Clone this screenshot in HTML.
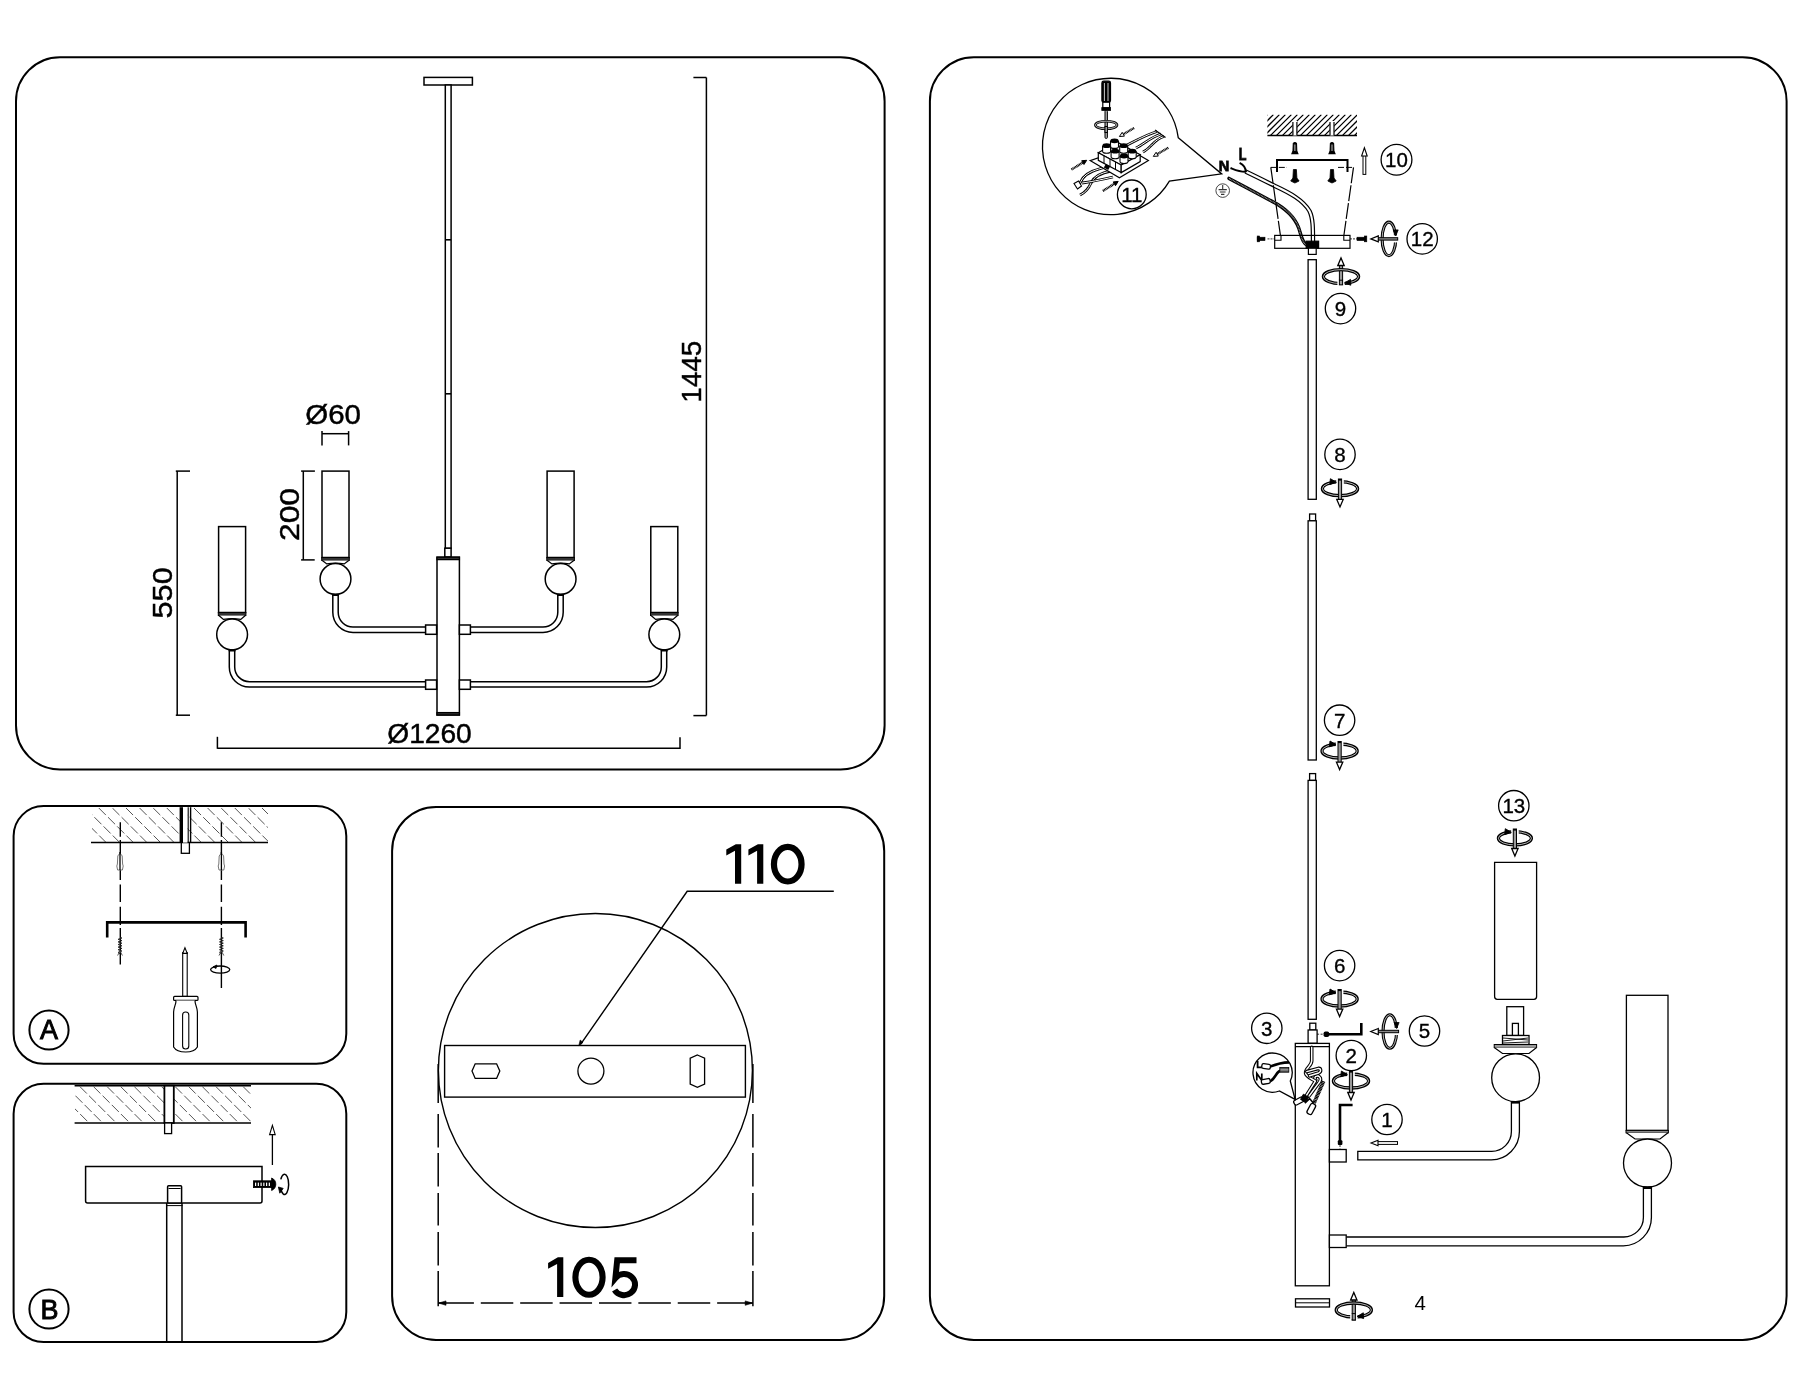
<!DOCTYPE html>
<html><head><meta charset="utf-8"><style>
html,body{margin:0;padding:0;background:#fff;}
body{width:1800px;height:1400px;overflow:hidden;}
svg{display:block;}
text{font-family:"Liberation Sans", sans-serif;fill:#000;}
svg{will-change:transform;}
</style></head><body>
<svg width="1800" height="1400" viewBox="0 0 1800 1400">
<rect x="0" y="0" width="1800" height="1400" fill="#fff"/>
<rect x="16.00" y="57.20" width="868.60" height="712.30" rx="44" fill="none" stroke="#000" stroke-width="2.0" />
<rect x="13.60" y="806.10" width="332.70" height="257.70" rx="30" fill="none" stroke="#000" stroke-width="2.0" />
<rect x="13.60" y="1083.70" width="332.70" height="258.30" rx="30" fill="none" stroke="#000" stroke-width="2.0" />
<rect x="392.10" y="806.90" width="492.10" height="533.10" rx="44" fill="none" stroke="#000" stroke-width="2.0" />
<rect x="929.90" y="57.20" width="856.70" height="1282.70" rx="44" fill="none" stroke="#000" stroke-width="2.0" />
<rect x="424.00" y="77.40" width="48.40" height="7.60" rx="0" fill="none" stroke="#000" stroke-width="1.5" />
<rect x="445.30" y="85.00" width="5.80" height="463.40" rx="0" fill="#fff" stroke="#000" stroke-width="1.5" />
<line x1="445.30" y1="239.80" x2="451.10" y2="239.80" stroke="#000" stroke-width="1.6" />
<line x1="445.30" y1="393.80" x2="451.10" y2="393.80" stroke="#000" stroke-width="1.6" />
<rect x="444.80" y="548.20" width="6.30" height="8.90" rx="0" fill="#fff" stroke="#000" stroke-width="1.5" />
<rect x="437.00" y="557.20" width="22.40" height="157.80" rx="0" fill="#fff" stroke="#000" stroke-width="1.5" />
<rect x="437.00" y="557.20" width="22.40" height="2.40" rx="0" fill="#333" stroke="#000" stroke-width="1.3" />
<rect x="437.00" y="712.60" width="22.40" height="2.40" rx="0" fill="#333" stroke="#000" stroke-width="1.3" />
<path d="M332.80,594.00 L332.80,612.20 A20.20,20.20 0 0 0 353.00,632.40 L425.60,632.40 M338.20,594.00 L338.20,612.20 A14.80,14.80 0 0 0 353.00,627.00 L425.60,627.00" fill="none" stroke="#000" stroke-width="1.5" />
<path d="M229.30,649.50 L229.30,666.90 A20.20,20.20 0 0 0 249.50,687.10 L425.60,687.10 M234.70,649.50 L234.70,666.90 A14.80,14.80 0 0 0 249.50,681.70 L425.60,681.70" fill="none" stroke="#000" stroke-width="1.5" />
<path d="M563.20,594.00 L563.20,612.20 A20.20,20.20 0 0 1 543.00,632.40 L470.40,632.40 M557.80,594.00 L557.80,612.20 A14.80,14.80 0 0 1 543.00,627.00 L470.40,627.00" fill="none" stroke="#000" stroke-width="1.5" />
<path d="M666.70,649.50 L666.70,666.90 A20.20,20.20 0 0 1 646.50,687.10 L470.40,687.10 M661.30,649.50 L661.30,666.90 A14.80,14.80 0 0 1 646.50,681.70 L470.40,681.70" fill="none" stroke="#000" stroke-width="1.5" />
<rect x="425.60" y="625.00" width="11.00" height="9.30" rx="0" fill="#fff" stroke="#000" stroke-width="1.5" />
<rect x="459.40" y="625.00" width="11.00" height="9.30" rx="0" fill="#fff" stroke="#000" stroke-width="1.5" />
<rect x="425.60" y="680.00" width="11.00" height="9.30" rx="0" fill="#fff" stroke="#000" stroke-width="1.5" />
<rect x="459.40" y="680.00" width="11.00" height="9.30" rx="0" fill="#fff" stroke="#000" stroke-width="1.5" />
<rect x="322.00" y="471.10" width="27.00" height="86.40" rx="0" fill="#fff" stroke="#000" stroke-width="1.5" />
<rect x="321.70" y="557.50" width="27.60" height="3.00" rx="0" fill="#333" stroke="#000" stroke-width="1.0" />
<path d="M322.30,560.50 L326.80,563.90 Q335.50,562.40 344.20,563.90 L348.70,560.50" fill="#fff" stroke="#000" stroke-width="1.3" />
<circle cx="335.50" cy="579.00" r="15.40" fill="#fff" stroke="#000" stroke-width="1.5" />
<rect x="332.20" y="593.60" width="6.60" height="2.40" rx="0" fill="#000" stroke="#000" stroke-width="0" />
<rect x="218.60" y="526.60" width="27.00" height="85.90" rx="0" fill="#fff" stroke="#000" stroke-width="1.5" />
<rect x="218.30" y="612.50" width="27.60" height="3.00" rx="0" fill="#333" stroke="#000" stroke-width="1.0" />
<path d="M218.90,615.50 L223.40,619.40 Q232.10,617.90 240.80,619.40 L245.30,615.50" fill="#fff" stroke="#000" stroke-width="1.3" />
<circle cx="232.10" cy="634.50" r="15.40" fill="#fff" stroke="#000" stroke-width="1.5" />
<rect x="228.80" y="649.10" width="6.60" height="2.40" rx="0" fill="#000" stroke="#000" stroke-width="0" />
<rect x="547.10" y="471.10" width="27.00" height="86.40" rx="0" fill="#fff" stroke="#000" stroke-width="1.5" />
<rect x="546.80" y="557.50" width="27.60" height="3.00" rx="0" fill="#333" stroke="#000" stroke-width="1.0" />
<path d="M547.40,560.50 L551.90,563.90 Q560.60,562.40 569.30,563.90 L573.80,560.50" fill="#fff" stroke="#000" stroke-width="1.3" />
<circle cx="560.60" cy="579.00" r="15.40" fill="#fff" stroke="#000" stroke-width="1.5" />
<rect x="557.30" y="593.60" width="6.60" height="2.40" rx="0" fill="#000" stroke="#000" stroke-width="0" />
<rect x="650.80" y="526.60" width="27.00" height="85.90" rx="0" fill="#fff" stroke="#000" stroke-width="1.5" />
<rect x="650.50" y="612.50" width="27.60" height="3.00" rx="0" fill="#333" stroke="#000" stroke-width="1.0" />
<path d="M651.10,615.50 L655.60,619.40 Q664.30,617.90 673.00,619.40 L677.50,615.50" fill="#fff" stroke="#000" stroke-width="1.3" />
<circle cx="664.30" cy="634.50" r="15.40" fill="#fff" stroke="#000" stroke-width="1.5" />
<rect x="661.00" y="649.10" width="6.60" height="2.40" rx="0" fill="#000" stroke="#000" stroke-width="0" />
<line x1="177.20" y1="471.10" x2="177.20" y2="715.20" stroke="#000" stroke-width="1.5" />
<line x1="175.80" y1="471.10" x2="190.00" y2="471.10" stroke="#000" stroke-width="1.5" />
<line x1="175.80" y1="715.20" x2="190.00" y2="715.20" stroke="#000" stroke-width="1.5" />
<line x1="303.30" y1="471.10" x2="303.30" y2="559.90" stroke="#000" stroke-width="1.5" />
<line x1="301.10" y1="471.10" x2="314.90" y2="471.10" stroke="#000" stroke-width="1.5" />
<line x1="301.10" y1="559.90" x2="314.70" y2="559.90" stroke="#000" stroke-width="1.5" />
<line x1="322.00" y1="433.70" x2="348.60" y2="433.70" stroke="#000" stroke-width="1.5" />
<line x1="322.00" y1="431.10" x2="322.00" y2="445.40" stroke="#000" stroke-width="1.5" />
<line x1="348.60" y1="431.10" x2="348.60" y2="445.40" stroke="#000" stroke-width="1.5" />
<line x1="706.40" y1="77.50" x2="706.40" y2="715.60" stroke="#000" stroke-width="1.5" />
<line x1="693.40" y1="77.50" x2="706.40" y2="77.50" stroke="#000" stroke-width="1.5" />
<line x1="693.40" y1="715.60" x2="706.40" y2="715.60" stroke="#000" stroke-width="1.5" />
<line x1="217.40" y1="748.30" x2="680.00" y2="748.30" stroke="#000" stroke-width="1.5" />
<line x1="217.40" y1="736.80" x2="217.40" y2="748.80" stroke="#000" stroke-width="1.5" />
<line x1="680.00" y1="737.30" x2="680.00" y2="749.00" stroke="#000" stroke-width="1.5" />
<g transform="translate(333.10,423.70) scale(1.1,1)"><text x="0" y="0" font-size="26.8" text-anchor="middle" font-weight="normal" stroke="#000" stroke-width="0.45">Ø60</text></g>
<g transform="translate(429.50,742.80) scale(1.05,1)"><text x="0" y="0" font-size="26.8" text-anchor="middle" font-weight="normal" stroke="#000" stroke-width="0.45">Ø1260</text></g>
<text transform="translate(299.2,514.5) rotate(-90) scale(1.19,1)" x="0" y="0" font-size="26.8" text-anchor="middle" stroke="#000" stroke-width="0.45">200</text>
<text transform="translate(171.8,592.9) rotate(-90) scale(1.145,1)" x="0" y="0" font-size="26.8" text-anchor="middle" stroke="#000" stroke-width="0.45">550</text>
<text transform="translate(700.9,371.7) rotate(-90) scale(1.04,1)" x="0" y="0" font-size="26.8" text-anchor="middle" stroke="#000" stroke-width="0.45">1445</text>
<clipPath id="c61"><rect x="92" y="808" width="176" height="34"/></clipPath>
<path clip-path="url(#c61)" d="M58.00,808.00 L92.00,842.00 M71.60,808.00 L105.60,842.00 M85.20,808.00 L119.20,842.00 M98.80,808.00 L132.80,842.00 M112.40,808.00 L146.40,842.00 M126.00,808.00 L160.00,842.00 M139.60,808.00 L173.60,842.00 M153.20,808.00 L187.20,842.00 M166.80,808.00 L200.80,842.00 M180.40,808.00 L214.40,842.00 M194.00,808.00 L228.00,842.00 M207.60,808.00 L241.60,842.00 M221.20,808.00 L255.20,842.00 M234.80,808.00 L268.80,842.00 M248.40,808.00 L282.40,842.00 M262.00,808.00 L296.00,842.00 M275.60,808.00 L309.60,842.00 M289.20,808.00 L323.20,842.00" stroke="#555" stroke-width="1.0" fill="none" stroke-dasharray="10 3"/>
<line x1="91.00" y1="842.60" x2="268.00" y2="842.60" stroke="#000" stroke-width="1.5" />
<rect x="181.30" y="842.60" width="8.10" height="10.70" rx="0" fill="#fff" stroke="#000" stroke-width="1.3" />
<rect x="179.60" y="807.20" width="3.40" height="35.40" rx="0" fill="#000" stroke="#000" stroke-width="0" />
<rect x="183.00" y="807.20" width="4.60" height="35.40" rx="0" fill="#fff" stroke="#000" stroke-width="0" />
<line x1="188.20" y1="807.20" x2="188.20" y2="842.60" stroke="#000" stroke-width="1.1" />
<line x1="190.60" y1="807.20" x2="190.60" y2="842.60" stroke="#000" stroke-width="1.4" />
<line x1="120.30" y1="822.20" x2="120.30" y2="964.50" stroke="#000" stroke-width="1.4" stroke-dasharray="14.5 3.3 40 4.5 17.5 4.8 18.2 3 40 0"/>
<line x1="221.40" y1="822.20" x2="221.40" y2="988.00" stroke="#000" stroke-width="1.4" stroke-dasharray="14.5 3.3 40 4.5 17.5 4.8 18.2 3 64 0"/>
<path d="M117.80,856 Q120.00,851.5 122.20,856 L122.60,864 L123.20,866 L122.40,870 L117.60,870 L116.80,866 L117.40,864 Z" fill="#fff" stroke="#666" stroke-width="0.9" />
<line x1="120.00" y1="852.00" x2="120.00" y2="870.00" stroke="#000" stroke-width="1.3" />
<path d="M120.00,937.5 L121.90,938.00 L118.10,939.30 L121.90,940.60 L118.10,941.90 L121.90,943.20 L118.10,944.50 L121.90,945.80 L118.10,947.10 L121.90,948.40 L118.10,949.70 L121.90,951.00 L118.10,952.30 L120.00,954" fill="none" stroke="#222" stroke-width="1.0" />
<path d="M117.60,955.5 L120.00,951 L122.40,955.5" fill="none" stroke="#444" stroke-width="0.9" />
<path d="M219.20,856 Q221.40,851.5 223.60,856 L224.00,864 L224.60,866 L223.80,870 L219.00,870 L218.20,866 L218.80,864 Z" fill="#fff" stroke="#666" stroke-width="0.9" />
<line x1="221.40" y1="852.00" x2="221.40" y2="870.00" stroke="#000" stroke-width="1.3" />
<path d="M221.40,937.5 L223.30,938.00 L219.50,939.30 L223.30,940.60 L219.50,941.90 L223.30,943.20 L219.50,944.50 L223.30,945.80 L219.50,947.10 L223.30,948.40 L219.50,949.70 L223.30,951.00 L219.50,952.30 L221.40,954" fill="none" stroke="#222" stroke-width="1.0" />
<path d="M219.00,955.5 L221.40,951 L223.80,955.5" fill="none" stroke="#444" stroke-width="0.9" />
<path d="M107.2,937.5 L107.2,922.4 L245.6,922.4 L245.6,937.5" fill="none" stroke="#000" stroke-width="2.6" />
<rect x="182.70" y="952.60" width="4.50" height="43.80" rx="0" fill="#fff" stroke="#000" stroke-width="1.1" />
<path d="M182.7,953.4 L184.95,947.8 L187.2,953.4 Z" fill="#fff" stroke="#000" stroke-width="1.1" />
<rect x="173.60" y="996.40" width="24.40" height="4.00" rx="1" fill="#fff" stroke="#000" stroke-width="1.2" />
<path d="M176,1000.4 C176,1005 174,1006 173.6,1012 L173.6,1047 C176,1051 181,1052 185.7,1052 C190,1052 195,1051 197.4,1047 L197.4,1012 C197,1006 195,1005 195,1000.4" fill="#fff" stroke="#000" stroke-width="1.2" />
<rect x="182.60" y="1012.00" width="6.20" height="37.00" rx="3" fill="none" stroke="#000" stroke-width="1.1" />
<ellipse cx="220.2" cy="969.6" rx="9.6" ry="3.6" fill="none" stroke="#000" stroke-width="1.3"/>
<path d="M213,966.8 L217,965 L216,968.5 Z" fill="#000" stroke="#000" stroke-width="0.8" />
<circle cx="49.00" cy="1030.00" r="19.60" fill="none" stroke="#000" stroke-width="2.0" />
<text x="49.00" y="1039.40" font-size="27" text-anchor="middle" font-weight="normal" stroke="#000" stroke-width="0.9">A</text>
<clipPath id="c89"><rect x="75" y="1086.5" width="176" height="36.0"/></clipPath>
<path clip-path="url(#c89)" d="M39.00,1086.50 L75.00,1122.50 M52.60,1086.50 L88.60,1122.50 M66.20,1086.50 L102.20,1122.50 M79.80,1086.50 L115.80,1122.50 M93.40,1086.50 L129.40,1122.50 M107.00,1086.50 L143.00,1122.50 M120.60,1086.50 L156.60,1122.50 M134.20,1086.50 L170.20,1122.50 M147.80,1086.50 L183.80,1122.50 M161.40,1086.50 L197.40,1122.50 M175.00,1086.50 L211.00,1122.50 M188.60,1086.50 L224.60,1122.50 M202.20,1086.50 L238.20,1122.50 M215.80,1086.50 L251.80,1122.50 M229.40,1086.50 L265.40,1122.50 M243.00,1086.50 L279.00,1122.50 M256.60,1086.50 L292.60,1122.50 M270.20,1086.50 L306.20,1122.50 M283.80,1086.50 L319.80,1122.50" stroke="#555" stroke-width="1.0" fill="none" stroke-dasharray="10 3"/>
<line x1="74.60" y1="1085.70" x2="251.00" y2="1085.70" stroke="#000" stroke-width="1.6" />
<line x1="74.60" y1="1123.00" x2="251.00" y2="1123.00" stroke="#000" stroke-width="1.6" />
<rect x="164.40" y="1085.70" width="9.40" height="37.30" rx="0" fill="#fff" stroke="#000" stroke-width="1.8" />
<rect x="164.60" y="1123.00" width="7.00" height="10.60" rx="0" fill="#fff" stroke="#000" stroke-width="1.3" />
<path d="M85.6,1166.4 L262.0,1166.4 L262.0,1201 Q262,1203 260,1203 L87.6,1203 Q85.6,1203 85.6,1201 Z" fill="#fff" stroke="#000" stroke-width="1.5" />
<rect x="167.60" y="1185.80" width="14.00" height="17.20" rx="1" fill="#fff" stroke="#000" stroke-width="1.5" />
<line x1="168.50" y1="1188.50" x2="180.60" y2="1188.50" stroke="#000" stroke-width="1.0" />
<line x1="166.70" y1="1203.00" x2="166.70" y2="1341.00" stroke="#000" stroke-width="1.5" />
<line x1="182.00" y1="1203.00" x2="182.00" y2="1341.00" stroke="#000" stroke-width="1.5" />
<line x1="166.00" y1="1205.60" x2="182.60" y2="1205.60" stroke="#000" stroke-width="1.0" />
<rect x="253.40" y="1180.80" width="18.20" height="6.80" rx="0" fill="#000" stroke="#000" stroke-width="0.8" />
<rect x="255.00" y="1182.6" width="1.2" height="3.4" fill="#fff"/>
<rect x="257.75" y="1182.6" width="1.2" height="3.4" fill="#fff"/>
<rect x="260.50" y="1182.6" width="1.2" height="3.4" fill="#fff"/>
<rect x="263.25" y="1182.6" width="1.2" height="3.4" fill="#fff"/>
<rect x="266.00" y="1182.6" width="1.2" height="3.4" fill="#fff"/>
<rect x="268.75" y="1182.6" width="1.2" height="3.4" fill="#fff"/>
<path d="M271.6,1178.0 Q275.8,1179.8 275.8,1184.2 Q275.8,1188.6 271.6,1190.5 Z" fill="#000" stroke="#000" stroke-width="0.8" />
<path d="M280.8,1179.4 A4.2,10.1 0 1 1 280.6,1188.2" fill="none" stroke="#000" stroke-width="1.5" />
<path d="M278.4,1187.0 L279.8,1193.2 L283.2,1188.4 Z" fill="#000" stroke="#000" stroke-width="0.8" />
<line x1="272.40" y1="1165.00" x2="272.40" y2="1130.00" stroke="#000" stroke-width="1.3" />
<path d="M269.6,1134.6 L272.4,1125.4 L275.2,1134.6 Z" fill="#fff" stroke="#000" stroke-width="1.1" />
<circle cx="49.00" cy="1309.00" r="19.60" fill="none" stroke="#000" stroke-width="2.0" />
<text x="49.60" y="1318.60" font-size="27" text-anchor="middle" font-weight="normal" stroke="#000" stroke-width="0.9">B</text>
<circle cx="595.40" cy="1070.50" r="157.00" fill="none" stroke="#000" stroke-width="1.4" />
<rect x="444.60" y="1045.50" width="300.80" height="51.60" rx="0" fill="#fff" stroke="#000" stroke-width="1.4" />
<path d="M472.0,1071.1 L475.2,1063.8 L496.6,1063.8 L499.8,1071.1 L496.6,1078.4 L475.2,1078.4 Z" fill="none" stroke="#000" stroke-width="1.3" />
<circle cx="590.90" cy="1071.10" r="13.00" fill="none" stroke="#000" stroke-width="1.3" />
<path d="M697.4,1055.0 L704.6,1058.2 L704.6,1084.2 L697.4,1087.4 L690.2,1084.2 L690.2,1058.2 Z" fill="none" stroke="#000" stroke-width="1.3" />
<path d="M580.4,1044.6 L687.2,891.3 L833.8,891.3" fill="none" stroke="#000" stroke-width="1.4" />
<path d="M578.8,1045.5 L580.2,1040 L583.0,1042.4 Z" fill="#000" stroke="#000" stroke-width="0.6" />
<path d="M726.30,849.60 L735.80,844.20 L741.20,844.20 L741.20,883.80 L735.00,883.80 L735.00,850.80 L726.30,855.60 Z" fill="#000" stroke="none"/>
<path d="M748.40,849.60 L757.90,844.20 L763.30,844.20 L763.30,883.80 L757.10,883.80 L757.10,850.80 L748.40,855.60 Z" fill="#000" stroke="none"/>
<ellipse cx="787.75" cy="864.2" rx="13.8" ry="17.3" fill="none" stroke="#000" stroke-width="6.2"/>
<path d="M548.10,1263.00 L557.90,1257.30 L563.30,1257.30 L563.30,1297.10 L557.10,1297.10 L557.10,1263.90 L548.10,1268.80 Z" fill="#000" stroke="none"/>
<ellipse cx="589.0" cy="1277.2" rx="13.6" ry="17.5" fill="none" stroke="#000" stroke-width="6.1"/>
<path d="M636.5,1260.2 L617.2,1260.2 L615.4,1278.0 A11.0,10.6 0 1 1 614.6,1290.0" fill="none" stroke="#000" stroke-width="6.0" stroke-linejoin="miter"/>
<path d="M438.2,1064 L438.2,1306.2" stroke="#000" stroke-width="1.5" fill="none" stroke-dasharray="39 11 33.4 5.6 33.5 6.5 32.5 6.5 33.4 5.6 40 0"/>
<path d="M752.9,1064 L752.9,1306.2" stroke="#000" stroke-width="1.5" fill="none" stroke-dasharray="39 11 33.4 5.6 33.5 6.5 32.5 6.5 33.4 5.6 40 0"/>
<path d="M438.2,1303.1 L752.9,1303.1" stroke="#000" stroke-width="1.5" fill="none" stroke-dasharray="35.7 6.89 32.5 6.89 32.5 6.89 32.5 6.89 32.5 6.89 32.5 6.89 32.5 6.89 40 0"/>
<path d="M438.6,1303.1 L446.0,1300.9 L446.0,1305.3 Z" fill="#000" stroke="#000" stroke-width="0.6" />
<path d="M752.5,1303.1 L745.2,1300.9 L745.2,1305.3 Z" fill="#000" stroke="#000" stroke-width="0.6" />
<path d="M1178.3,137.8 L1221.7,173.9 L1169.4,181.1 A68.2,68.2 0 1 1 1178.3,137.8 Z" fill="#fff" stroke="#000" stroke-width="1.3" />
<rect x="1101.90" y="81.20" width="8.60" height="21.00" rx="1.8" fill="#000" stroke="#000" stroke-width="1.2" />
<line x1="1104.40" y1="83.00" x2="1104.40" y2="101.00" stroke="#fff" stroke-width="0.8" />
<line x1="1108.00" y1="83.00" x2="1108.00" y2="101.00" stroke="#fff" stroke-width="0.8" />
<rect x="1102.80" y="102.20" width="6.80" height="5.80" rx="0" fill="#fff" stroke="#000" stroke-width="1.2" />
<rect x="1101.80" y="107.60" width="8.80" height="2.80" rx="0" fill="#000" stroke="#000" stroke-width="0.8" />
<rect x="1105.00" y="110.40" width="2.40" height="28.00" rx="1" fill="#aaa" stroke="#000" stroke-width="1.0" />
<ellipse cx="1106.2" cy="125.0" rx="10.8" ry="3.8" fill="none" stroke="#000" stroke-width="2.6"/>
<ellipse cx="1106.2" cy="125.0" rx="10.8" ry="3.8" fill="none" stroke="#fff" stroke-width="0.7"/>
<rect x="1105.00" y="126.50" width="2.40" height="6.00" rx="0" fill="#aaa" stroke="#000" stroke-width="1.0" />
<path d="M1106,167 C1095,170 1088,172 1083,178 C1080,183 1078,186 1077,188" fill="none" stroke="#000" stroke-width="2.8" />
<path d="M1106,167 C1095,170 1088,172 1083,178 C1080,183 1078,186 1077,188" fill="none" stroke="#fff" stroke-width="1.0" />
<path d="M1111,171 C1100,173 1094,177 1091,183 C1088,190 1084,193 1080,195" fill="none" stroke="#000" stroke-width="2.8" />
<path d="M1111,171 C1100,173 1094,177 1091,183 C1088,190 1084,193 1080,195" fill="none" stroke="#fff" stroke-width="1.0" />
<path d="M1113,177 C1100,180 1090,182 1082,183" fill="none" stroke="#000" stroke-width="2.8" />
<path d="M1113,177 C1100,180 1090,182 1082,183" fill="none" stroke="#fff" stroke-width="1.0" />
<path d="M1074,183.5 L1078.5,181 L1081.5,186 L1077.5,189 Z" fill="#fff" stroke="#000" stroke-width="1.1" />
<path d="M1127,145 C1135,141 1147,134.5 1157,131.5" fill="none" stroke="#000" stroke-width="2.8" />
<path d="M1127,145 C1135,141 1147,134.5 1157,131.5" fill="none" stroke="#fff" stroke-width="1.0" />
<path d="M1136,148 C1144,144 1151,137 1161,134" fill="none" stroke="#000" stroke-width="2.8" />
<path d="M1136,148 C1144,144 1151,137 1161,134" fill="none" stroke="#fff" stroke-width="1.0" />
<path d="M1143,152 C1151,148 1154,139.5 1164,136.5" fill="none" stroke="#000" stroke-width="2.8" />
<path d="M1143,152 C1151,148 1154,139.5 1164,136.5" fill="none" stroke="#fff" stroke-width="1.0" />
<path d="M1155,130 L1165.5,137.5" fill="none" stroke="#000" stroke-width="1.2" />
<path d="M1090.1,160.6 L1119.4,177.8 L1148.4,160.6 L1127,148 Z" fill="#fff" stroke="#000" stroke-width="1.2" />
<path d="M1098.3,152.7 L1117.0,142.0 L1140.2,154.8 L1121.2,165.0 Z" fill="#fff" stroke="#000" stroke-width="1.2" />
<path d="M1098.3,152.7 L1121.2,165.0 L1121.2,172.6 L1098.3,160.3 Z" fill="#fff" stroke="#000" stroke-width="1.2" />
<path d="M1121.2,165.0 L1140.2,154.8 L1140.2,161.6 L1121.2,172.6 Z" fill="#fff" stroke="#000" stroke-width="1.2" />
<path d="M1104,155.8 L1104,163.3 M1110,159 L1110,166.5 M1115.5,162 L1115.5,169.5" fill="none" stroke="#000" stroke-width="1.0" />
<rect x="1104.5" y="165" width="5" height="4" fill="#000" transform="rotate(30 1107 167)"/>
<path d="M1110.50,140.80 L1110.50,146.40 A4,2 0 0 0 1118.50,146.40 L1118.50,140.80" fill="#fff" stroke="#000" stroke-width="1.1"/>
<ellipse cx="1114.50" cy="140.80" rx="4.1" ry="2.4" fill="#000"/>
<rect x="1110.40" y="140.80" width="8.2" height="1.6" fill="#000"/>
<path d="M1102.60,145.70 L1102.60,151.30 A4,2 0 0 0 1110.60,151.30 L1110.60,145.70" fill="#fff" stroke="#000" stroke-width="1.1"/>
<ellipse cx="1106.60" cy="145.70" rx="4.1" ry="2.4" fill="#000"/>
<rect x="1102.50" y="145.70" width="8.2" height="1.6" fill="#000"/>
<path d="M1119.70,145.70 L1119.70,151.30 A4,2 0 0 0 1127.70,151.30 L1127.70,145.70" fill="#fff" stroke="#000" stroke-width="1.1"/>
<ellipse cx="1123.70" cy="145.70" rx="4.1" ry="2.4" fill="#000"/>
<rect x="1119.60" y="145.70" width="8.2" height="1.6" fill="#000"/>
<path d="M1128.20,151.20 L1128.20,156.80 A4,2 0 0 0 1136.20,156.80 L1136.20,151.20" fill="#fff" stroke="#000" stroke-width="1.1"/>
<ellipse cx="1132.20" cy="151.20" rx="4.1" ry="2.4" fill="#000"/>
<rect x="1128.10" y="151.20" width="8.2" height="1.6" fill="#000"/>
<path d="M1111.10,151.20 L1111.10,156.80 A4,2 0 0 0 1119.10,156.80 L1119.10,151.20" fill="#fff" stroke="#000" stroke-width="1.1"/>
<ellipse cx="1115.10" cy="151.20" rx="4.1" ry="2.4" fill="#000"/>
<rect x="1111.00" y="151.20" width="8.2" height="1.6" fill="#000"/>
<path d="M1120.00,156.00 L1120.00,161.60 A4,2 0 0 0 1128.00,161.60 L1128.00,156.00" fill="#fff" stroke="#000" stroke-width="1.1"/>
<ellipse cx="1124.00" cy="156.00" rx="4.1" ry="2.4" fill="#000"/>
<rect x="1119.90" y="156.00" width="8.2" height="1.6" fill="#000"/>
<line x1="1134.10" y1="128.00" x2="1123.30" y2="134.25" stroke="#000" stroke-width="2.4" stroke-dasharray="1 0.5"/>
<path d="M1119.40,136.50 L1122.19,132.34 L1124.40,136.15 Z" fill="#fff" stroke="#000" stroke-width="1.0" />
<line x1="1168.30" y1="147.80" x2="1157.20" y2="154.16" stroke="#000" stroke-width="2.4" stroke-dasharray="1 0.5"/>
<path d="M1153.30,156.40 L1156.11,152.25 L1158.30,156.07 Z" fill="#fff" stroke="#000" stroke-width="1.0" />
<line x1="1071.40" y1="169.50" x2="1082.84" y2="162.62" stroke="#000" stroke-width="2.4" stroke-dasharray="1 0.5"/>
<path d="M1086.70,160.30 L1083.98,164.50 L1081.71,160.73 Z" fill="#000" stroke="#000" stroke-width="1.0" />
<line x1="1102.90" y1="190.90" x2="1114.38" y2="183.77" stroke="#000" stroke-width="2.4" stroke-dasharray="1 0.5"/>
<path d="M1118.20,181.40 L1115.54,185.64 L1113.22,181.90 Z" fill="#000" stroke="#000" stroke-width="1.0" />
<circle cx="1131.80" cy="194.40" r="14.40" fill="#fff" stroke="#000" stroke-width="1.3" />
<text x="1131.80" y="201.70" font-size="20.5" text-anchor="middle" font-weight="normal" stroke="#000" stroke-width="0.35">11</text>
<text x="1224.0" y="170.8" font-size="14.6" text-anchor="middle" font-weight="bold" fill="#777" stroke="#111" stroke-width="0.8">N</text>
<g transform="translate(1242.6,159.7) scale(0.8,1)"><text x="0" y="0" font-size="15.8" text-anchor="middle" font-weight="bold" fill="#777" stroke="#111" stroke-width="0.8">L</text></g>
<circle cx="1222.70" cy="190.60" r="6.80" fill="none" stroke="#333" stroke-width="0.9" />
<path d="M1222.7,185.0 L1222.7,189.4 M1218.6,189.6 L1226.8,189.6 M1219.8,192.0 L1225.6,192.0 M1221.0,194.4 L1224.4,194.4" fill="none" stroke="#333" stroke-width="1.1" />
<path d="M1229.0,178.4 C1245,187 1262,196 1277,204 C1290,212 1297,220 1300,232 C1302,240 1304,244 1307.5,245.5" fill="none" stroke="#000" stroke-width="3.4" stroke-linecap="round"/>
<path d="M1229.0,178.4 C1245,187 1262,196 1277,204 C1290,212 1297,220 1300,232 C1302,240 1304,244 1307.5,245.5" fill="none" stroke="#999" stroke-width="1.3" stroke-dasharray="0.9 0.6"/>
<path d="M1245.5,171.5 C1255,176 1265,181 1275,186 C1290,193 1303,200 1309.5,211 C1313,218 1313,228 1313,242" fill="none" stroke="#000" stroke-width="4.4" />
<path d="M1245.5,171.5 C1255,176 1265,181 1275,186 C1290,193 1303,200 1309.5,211 C1313,218 1313,228 1313,242" fill="none" stroke="#fff" stroke-width="2.0" />
<path d="M1230.5,168.0 C1235,169.8 1240,172.2 1246.2,171.8 M1239.6,162.8 C1243.5,164.6 1245.6,167.4 1246.0,172.0" fill="none" stroke="#000" stroke-width="2.0" />
<clipPath id="c200"><rect x="1267.4" y="114.6" width="89.59999999999991" height="20.80000000000001"/></clipPath>
<path clip-path="url(#c200)" d="M1267.40,114.60 L1246.60,135.40 M1273.40,114.60 L1252.60,135.40 M1279.40,114.60 L1258.60,135.40 M1285.40,114.60 L1264.60,135.40 M1291.40,114.60 L1270.60,135.40 M1297.40,114.60 L1276.60,135.40 M1303.40,114.60 L1282.60,135.40 M1309.40,114.60 L1288.60,135.40 M1315.40,114.60 L1294.60,135.40 M1321.40,114.60 L1300.60,135.40 M1327.40,114.60 L1306.60,135.40 M1333.40,114.60 L1312.60,135.40 M1339.40,114.60 L1318.60,135.40 M1345.40,114.60 L1324.60,135.40 M1351.40,114.60 L1330.60,135.40 M1357.40,114.60 L1336.60,135.40 M1363.40,114.60 L1342.60,135.40 M1369.40,114.60 L1348.60,135.40 M1375.40,114.60 L1354.60,135.40 M1381.40,114.60 L1360.60,135.40 M1387.40,114.60 L1366.60,135.40 M1393.40,114.60 L1372.60,135.40" stroke="#000" stroke-width="1.3" fill="none" />
<line x1="1267.40" y1="135.40" x2="1357.00" y2="135.40" stroke="#000" stroke-width="1.5" />
<rect x="1292.70" y="121.00" width="4.40" height="14.50" rx="0" fill="#fff" stroke="#000" stroke-width="0" />
<line x1="1292.90" y1="122.00" x2="1292.90" y2="135.40" stroke="#000" stroke-width="1.2" />
<line x1="1296.90" y1="122.00" x2="1296.90" y2="135.40" stroke="#000" stroke-width="1.2" />
<path d="M1293.30,143.4 Q1294.90,141.6 1296.50,143.4 L1296.80,151 L1297.90,153.6 L1291.90,153.6 L1293.00,151 Z" fill="#000" stroke="#000" stroke-width="1.1" />
<line x1="1294.90" y1="144.50" x2="1294.90" y2="151.00" stroke="#fff" stroke-width="0.8" />
<path d="M1293.40,169.5 L1296.40,169.5 L1296.90,178 L1299.10,181 L1294.90,183 L1290.70,181 L1292.90,178 Z" fill="#000" stroke="#000" stroke-width="0.8" />
<rect x="1329.80" y="121.00" width="4.40" height="14.50" rx="0" fill="#fff" stroke="#000" stroke-width="0" />
<line x1="1330.00" y1="122.00" x2="1330.00" y2="135.40" stroke="#000" stroke-width="1.2" />
<line x1="1334.00" y1="122.00" x2="1334.00" y2="135.40" stroke="#000" stroke-width="1.2" />
<path d="M1330.40,143.4 Q1332.00,141.6 1333.60,143.4 L1333.90,151 L1335.00,153.6 L1329.00,153.6 L1330.10,151 Z" fill="#000" stroke="#000" stroke-width="1.1" />
<line x1="1332.00" y1="144.50" x2="1332.00" y2="151.00" stroke="#fff" stroke-width="0.8" />
<path d="M1330.50,169.5 L1333.50,169.5 L1334.00,178 L1336.20,181 L1332.00,183 L1327.80,181 L1330.00,178 Z" fill="#000" stroke="#000" stroke-width="0.8" />
<path d="M1277.0,172.0 L1277.0,160.0 L1347.5,160.0 L1347.5,172.0" fill="none" stroke="#000" stroke-width="2.0" />
<line x1="1270.80" y1="167.40" x2="1287.00" y2="167.40" stroke="#000" stroke-width="1.0" stroke-dasharray="6 2"/>
<line x1="1338.00" y1="167.40" x2="1353.50" y2="167.40" stroke="#000" stroke-width="1.0" stroke-dasharray="6 2"/>
<line x1="1270.80" y1="167.40" x2="1280.50" y2="236.00" stroke="#000" stroke-width="1.2" stroke-dasharray="16 2"/>
<line x1="1353.50" y1="167.40" x2="1343.80" y2="236.00" stroke="#000" stroke-width="1.2" stroke-dasharray="16 2"/>
<rect x="1274.70" y="235.40" width="75.30" height="12.90" rx="0" fill="none" stroke="#000" stroke-width="1.2" />
<path d="M1274.7,240.2 L1281,240.2 L1281,235.4 M1350,240.2 L1343.8,240.2 L1343.8,235.4" fill="none" stroke="#000" stroke-width="1.1" />
<rect x="1257.20" y="237.20" width="7.80" height="3.40" rx="0" fill="#000" stroke="#000" stroke-width="0.6" />
<rect x="1257.20" y="236.00" width="2.40" height="5.80" rx="0" fill="#000" stroke="#000" stroke-width="0.6" />
<rect x="1357.00" y="237.20" width="8.10" height="3.40" rx="0" fill="#000" stroke="#000" stroke-width="0.6" />
<rect x="1364.40" y="236.00" width="2.40" height="5.80" rx="0" fill="#000" stroke="#000" stroke-width="0.6" />
<line x1="1267.50" y1="238.90" x2="1274.70" y2="238.90" stroke="#000" stroke-width="0.8" stroke-dasharray="2 1"/>
<line x1="1350.00" y1="238.90" x2="1357.00" y2="238.90" stroke="#000" stroke-width="0.8" stroke-dasharray="2 1"/>
<ellipse cx="1388.90" cy="238.90" rx="6.80" ry="16.80" fill="none" stroke="#000" stroke-width="3.1"/>
<ellipse cx="1388.90" cy="238.90" rx="6.80" ry="16.80" fill="none" stroke="#fff" stroke-width="0.7"/>
<rect x="1392.70" y="235.40" width="5" height="7" fill="#fff"/>
<path d="M1393.20,229.90 L1398.20,229.90 L1395.70,235.90 Z" fill="#000" stroke="#000" stroke-width="0.8" />
<rect x="1377.80" y="237.70" width="19.90" height="2.40" rx="0" fill="#888" stroke="#000" stroke-width="1.0" />
<path d="M1378.30,235.90 L1370.80,238.90 L1378.30,241.90 Z" fill="#fff" stroke="#000" stroke-width="1.2" />
<rect x="1306.20" y="241.20" width="12.40" height="7.00" rx="0" fill="#000" stroke="#000" stroke-width="1.2" />
<rect x="1308.40" y="248.20" width="7.80" height="6.20" rx="0" fill="#fff" stroke="#000" stroke-width="1.2" />
<rect x="1363.00" y="155.60" width="2.80" height="18.80" rx="0" fill="#fff" stroke="#000" stroke-width="1.0" />
<path d="M1361.6,156.0 L1364.4,147.8 L1367.2,156.0 Z" fill="#fff" stroke="#000" stroke-width="1.1" />
<circle cx="1396.50" cy="159.70" r="15.40" fill="#fff" stroke="#000" stroke-width="1.3" />
<text x="1396.50" y="167.00" font-size="20.5" text-anchor="middle" font-weight="normal" stroke="#000" stroke-width="0.35">10</text>
<circle cx="1422.20" cy="238.90" r="15.20" fill="#fff" stroke="#000" stroke-width="1.3" />
<text x="1422.20" y="246.20" font-size="20.5" text-anchor="middle" font-weight="normal" stroke="#000" stroke-width="0.35">12</text>
<rect x="1308.10" y="259.70" width="8.20" height="239.60" rx="0" fill="#fff" stroke="#000" stroke-width="1.3" />
<rect x="1309.60" y="514.00" width="6.00" height="6.80" rx="0" fill="#fff" stroke="#000" stroke-width="1.3" />
<rect x="1308.10" y="520.80" width="8.20" height="239.20" rx="0" fill="#fff" stroke="#000" stroke-width="1.3" />
<rect x="1309.60" y="773.60" width="6.00" height="6.80" rx="0" fill="#fff" stroke="#000" stroke-width="1.3" />
<rect x="1308.10" y="780.40" width="8.20" height="238.90" rx="0" fill="#fff" stroke="#000" stroke-width="1.3" />
<rect x="1309.80" y="1023.20" width="6.00" height="6.80" rx="0" fill="#fff" stroke="#000" stroke-width="1.3" />
<rect x="1308.10" y="1030.00" width="9.00" height="13.30" rx="0" fill="#fff" stroke="#000" stroke-width="1.3" />
<rect x="1339.40" y="265.00" width="3.20" height="19.80" rx="0" fill="#999" stroke="#000" stroke-width="1.0" />
<path d="M1337.80,265.50 L1341.00,258.00 L1344.20,265.50 Z" fill="#fff" stroke="#000" stroke-width="1.3" />
<ellipse cx="1341.00" cy="276.60" rx="17.60" ry="7.00" fill="none" stroke="#000" stroke-width="3.3"/>
<ellipse cx="1341.00" cy="276.60" rx="17.60" ry="7.00" fill="none" stroke="#fff" stroke-width="0.7"/>
<rect x="1337.40" y="280.40" width="7.4" height="5.4" fill="#fff"/>
<rect x="1339.40" y="280.20" width="3.20" height="4.60" rx="0" fill="#999" stroke="#000" stroke-width="1.0" />
<path d="M1344.40,283.00 L1350.50,279.40 L1350.80,285.20 Z" fill="#000" stroke="#000" stroke-width="0.9" />
<circle cx="1340.50" cy="308.60" r="15.20" fill="#fff" stroke="#000" stroke-width="1.3" />
<text x="1340.50" y="315.90" font-size="20.5" text-anchor="middle" font-weight="normal" stroke="#000" stroke-width="0.35">9</text>
<circle cx="1340.00" cy="454.40" r="15.20" fill="#fff" stroke="#000" stroke-width="1.3" />
<text x="1340.00" y="461.70" font-size="20.5" text-anchor="middle" font-weight="normal" stroke="#000" stroke-width="0.35">8</text>
<ellipse cx="1340.00" cy="488.70" rx="17.60" ry="7.00" fill="none" stroke="#000" stroke-width="3.3"/>
<ellipse cx="1340.00" cy="488.70" rx="17.60" ry="7.00" fill="none" stroke="#fff" stroke-width="0.7"/>
<rect x="1336.20" y="479.50" width="7.6" height="5.4" fill="#fff"/>
<path d="M1336.40,482.30 L1330.40,478.70 L1329.80,484.50 Z" fill="#000" stroke="#000" stroke-width="0.9" />
<rect x="1338.40" y="479.00" width="3.20" height="20.90" rx="0" fill="#999" stroke="#000" stroke-width="1.0" />
<rect x="1338.40" y="479.00" width="3.20" height="1.60" rx="0" fill="#000" stroke="#000" stroke-width="0" />
<path d="M1336.80,499.40 L1340.00,506.90 L1343.20,499.40 Z" fill="#fff" stroke="#000" stroke-width="1.3" />
<circle cx="1339.60" cy="720.20" r="15.20" fill="#fff" stroke="#000" stroke-width="1.3" />
<text x="1339.60" y="727.50" font-size="20.5" text-anchor="middle" font-weight="normal" stroke="#000" stroke-width="0.35">7</text>
<ellipse cx="1339.60" cy="751.00" rx="17.60" ry="7.00" fill="none" stroke="#000" stroke-width="3.3"/>
<ellipse cx="1339.60" cy="751.00" rx="17.60" ry="7.00" fill="none" stroke="#fff" stroke-width="0.7"/>
<rect x="1335.80" y="741.80" width="7.6" height="5.4" fill="#fff"/>
<path d="M1336.00,744.60 L1330.00,741.00 L1329.40,746.80 Z" fill="#000" stroke="#000" stroke-width="0.9" />
<rect x="1338.00" y="741.50" width="3.20" height="21.10" rx="0" fill="#999" stroke="#000" stroke-width="1.0" />
<rect x="1338.00" y="741.50" width="3.20" height="1.60" rx="0" fill="#000" stroke="#000" stroke-width="0" />
<path d="M1336.40,762.10 L1339.60,769.60 L1342.80,762.10 Z" fill="#fff" stroke="#000" stroke-width="1.3" />
<circle cx="1339.60" cy="965.60" r="15.20" fill="#fff" stroke="#000" stroke-width="1.3" />
<text x="1339.60" y="972.90" font-size="20.5" text-anchor="middle" font-weight="normal" stroke="#000" stroke-width="0.35">6</text>
<ellipse cx="1339.60" cy="999.00" rx="17.60" ry="7.00" fill="none" stroke="#000" stroke-width="3.3"/>
<ellipse cx="1339.60" cy="999.00" rx="17.60" ry="7.00" fill="none" stroke="#fff" stroke-width="0.7"/>
<rect x="1335.80" y="989.80" width="7.6" height="5.4" fill="#fff"/>
<path d="M1336.00,992.60 L1330.00,989.00 L1329.40,994.80 Z" fill="#000" stroke="#000" stroke-width="0.9" />
<rect x="1338.00" y="989.50" width="3.20" height="20.10" rx="0" fill="#999" stroke="#000" stroke-width="1.0" />
<rect x="1338.00" y="989.50" width="3.20" height="1.60" rx="0" fill="#000" stroke="#000" stroke-width="0" />
<path d="M1336.40,1009.10 L1339.60,1016.60 L1342.80,1009.10 Z" fill="#fff" stroke="#000" stroke-width="1.3" />
<rect x="1295.30" y="1043.40" width="34.10" height="242.40" rx="0" fill="#fff" stroke="#000" stroke-width="1.3" />
<line x1="1295.30" y1="1046.60" x2="1329.40" y2="1046.60" stroke="#000" stroke-width="1.2" />
<rect x="1295.50" y="1298.80" width="34.00" height="8.20" rx="0" fill="#fff" stroke="#000" stroke-width="1.3" />
<line x1="1295.50" y1="1302.80" x2="1329.50" y2="1302.80" stroke="#000" stroke-width="1.0" />
<path d="M1323.6,1081.2 L1314.0,1103.0" fill="none" stroke="#000" stroke-width="3.8" stroke-dasharray="1.2 0.35"/>
<path d="M1315.8,1080.0 C1313.2,1077.2 1316.8,1074.6 1319.4,1076.8 C1321.2,1078.4 1320.4,1081.0 1318.4,1083.4 L1309.0,1096.0" fill="none" stroke="#000" stroke-width="3.6" stroke-linecap="round" stroke-linejoin="round"/>
<path d="M1315.8,1080.0 C1313.2,1077.2 1316.8,1074.6 1319.4,1076.8 C1321.2,1078.4 1320.4,1081.0 1318.4,1083.4 L1309.0,1096.0" fill="none" stroke="#fff" stroke-width="1.5" stroke-linecap="round" stroke-linejoin="round"/>
<path d="M1311.7,1047.4 L1311.7,1061.0 C1311.7,1066.0 1305.2,1068.0 1305.6,1073.0 C1306.0,1077.0 1312.6,1079.0 1315.4,1081.2 L1306.4,1095.4" fill="none" stroke="#000" stroke-width="3.6" stroke-linecap="round" stroke-linejoin="round"/>
<path d="M1311.7,1047.4 L1311.7,1061.0 C1311.7,1066.0 1305.2,1068.0 1305.6,1073.0 C1306.0,1077.0 1312.6,1079.0 1315.4,1081.2 L1306.4,1095.4" fill="none" stroke="#fff" stroke-width="1.5" stroke-linecap="round" stroke-linejoin="round"/>
<path d="M1306.8,1071.6 L1318.4,1068.4 C1321.0,1068.2 1321.6,1071.8 1318.6,1073.0 L1309.6,1075.8" fill="none" stroke="#000" stroke-width="3.6" stroke-linecap="round" stroke-linejoin="round"/>
<path d="M1306.8,1071.6 L1318.4,1068.4 C1321.0,1068.2 1321.6,1071.8 1318.6,1073.0 L1309.6,1075.8" fill="none" stroke="#fff" stroke-width="1.5" stroke-linecap="round" stroke-linejoin="round"/>
<rect x="1293.6" y="1098.4" width="10.4" height="5.2" rx="2" fill="#fff" stroke="#000" stroke-width="1.3" transform="rotate(-28 1298.8 1101)"/>
<rect x="1308.6" y="1103.4" width="5.4" height="11.2" rx="2" fill="#fff" stroke="#000" stroke-width="1.3" transform="rotate(28 1311.3 1109)"/>
<path d="M1303.4,1094.2 L1308.6,1097.2 L1305.8,1102.4 L1300.6,1099.4 Z" fill="#000" stroke="#000" stroke-width="1.0" />
<path d="M1304.8,1103.2 L1309.6,1098.6 L1313.8,1103.6" fill="none" stroke="#000" stroke-width="1.6" />
<path d="M1290.3,1081.0 L1295.1,1099.4 L1279.4,1091.0 A19.6,19.6 0 1 1 1290.3,1081.0 Z" fill="#fff" stroke="#000" stroke-width="1.3" />
<path d="M1257.6,1061.0 L1257.6,1067.4 L1261.8,1067.4" fill="none" stroke="#000" stroke-width="1.8" />
<path d="M1256.8,1080.6 L1256.8,1073.4 L1261.8,1080.4 L1261.8,1073.4" fill="none" stroke="#000" stroke-width="1.7" />
<path d="M1270.0,1066.6 C1276.0,1064.2 1280.0,1062.6 1289.0,1062.4" fill="none" stroke="#000" stroke-width="2.6" />
<path d="M1270.0,1081.2 C1274.0,1080.0 1275.5,1074.0 1279.0,1071.4 C1282.0,1069.6 1285.0,1069.6 1289.0,1069.4" fill="none" stroke="#000" stroke-width="2.6" />
<rect x="1261.8" y="1064.0" width="8.6" height="4.8" rx="1.6" fill="#fff" stroke="#000" stroke-width="1.3" transform="rotate(8 1266 1066.4)"/>
<rect x="1261.4" y="1079.0" width="8.8" height="4.8" rx="1.6" fill="#fff" stroke="#000" stroke-width="1.3" transform="rotate(-10 1265.8 1081.4)"/>
<rect x="1279.80" y="1067.60" width="9.00" height="4.60" rx="0" fill="#555" stroke="#000" stroke-width="0.8" />
<line x1="1280.50" y1="1069.90" x2="1288.50" y2="1069.90" stroke="#ccc" stroke-width="0.8" />
<circle cx="1266.80" cy="1028.30" r="15.20" fill="#fff" stroke="#000" stroke-width="1.3" />
<text x="1266.80" y="1035.60" font-size="20.5" text-anchor="middle" font-weight="normal" stroke="#000" stroke-width="0.35">3</text>
<circle cx="1424.50" cy="1031.00" r="15.20" fill="#fff" stroke="#000" stroke-width="1.3" />
<text x="1424.50" y="1038.30" font-size="20.5" text-anchor="middle" font-weight="normal" stroke="#000" stroke-width="0.35">5</text>
<circle cx="1351.30" cy="1055.50" r="15.20" fill="#fff" stroke="#000" stroke-width="1.3" />
<text x="1351.30" y="1062.80" font-size="20.5" text-anchor="middle" font-weight="normal" stroke="#000" stroke-width="0.35">2</text>
<circle cx="1387.00" cy="1119.50" r="15.20" fill="#fff" stroke="#000" stroke-width="1.3" />
<text x="1387.00" y="1126.80" font-size="20.5" text-anchor="middle" font-weight="normal" stroke="#000" stroke-width="0.35">1</text>
<circle cx="1513.80" cy="805.70" r="15.20" fill="#fff" stroke="#000" stroke-width="1.3" />
<text x="1513.80" y="813.00" font-size="20.5" text-anchor="middle" font-weight="normal" stroke="#000" stroke-width="0.35">13</text>
<path d="M1327.0,1034.2 L1361.3,1034.2 L1361.3,1023.0" fill="none" stroke="#000" stroke-width="2.6" />
<rect x="1323.6" y="1031.4" width="5.6" height="5.6" rx="1.8" fill="#000"/>
<line x1="1317.10" y1="1034.20" x2="1324.00" y2="1034.20" stroke="#000" stroke-width="0.8" stroke-dasharray="2 1.5"/>
<ellipse cx="1389.80" cy="1031.50" rx="6.80" ry="16.80" fill="none" stroke="#000" stroke-width="3.1"/>
<ellipse cx="1389.80" cy="1031.50" rx="6.80" ry="16.80" fill="none" stroke="#fff" stroke-width="0.7"/>
<rect x="1393.60" y="1028.00" width="5" height="7" fill="#fff"/>
<path d="M1394.10,1022.50 L1399.10,1022.50 L1396.60,1028.50 Z" fill="#000" stroke="#000" stroke-width="0.8" />
<rect x="1377.80" y="1030.30" width="20.80" height="2.40" rx="0" fill="#888" stroke="#000" stroke-width="1.0" />
<path d="M1378.30,1028.50 L1370.80,1031.50 L1378.30,1034.50 Z" fill="#fff" stroke="#000" stroke-width="1.2" />
<ellipse cx="1351.00" cy="1081.00" rx="17.60" ry="7.00" fill="none" stroke="#000" stroke-width="3.3"/>
<ellipse cx="1351.00" cy="1081.00" rx="17.60" ry="7.00" fill="none" stroke="#fff" stroke-width="0.7"/>
<rect x="1347.20" y="1071.80" width="7.6" height="5.4" fill="#fff"/>
<path d="M1347.40,1074.60 L1341.40,1071.00 L1340.80,1076.80 Z" fill="#000" stroke="#000" stroke-width="0.9" />
<rect x="1349.40" y="1071.00" width="3.20" height="22.00" rx="0" fill="#999" stroke="#000" stroke-width="1.0" />
<rect x="1349.40" y="1071.00" width="3.20" height="1.60" rx="0" fill="#000" stroke="#000" stroke-width="0" />
<path d="M1347.80,1092.50 L1351.00,1100.00 L1354.20,1092.50 Z" fill="#fff" stroke="#000" stroke-width="1.3" />
<path d="M1352.6,1105.0 L1340.0,1105.0 L1340.0,1141.0" fill="none" stroke="#000" stroke-width="2.6" />
<rect x="1337.8" y="1140.2" width="4.6" height="4.8" rx="1" fill="#000"/>
<line x1="1340.00" y1="1145.00" x2="1340.00" y2="1152.00" stroke="#000" stroke-width="0.8" stroke-dasharray="2 1.5"/>
<rect x="1329.40" y="1149.50" width="16.80" height="12.50" rx="0" fill="#fff" stroke="#000" stroke-width="1.3" />
<rect x="1375.20" y="1141.60" width="22.30" height="2.80" rx="0" fill="#fff" stroke="#000" stroke-width="1.0" />
<path d="M1378.0,1140.2 L1371.0,1143.0 L1378.0,1145.8 Z" fill="#fff" stroke="#000" stroke-width="1.1" />
<path d="M1357.80,1159.90 L1491.40,1159.90 A28.30,28.30 0 0 0 1519.40,1131.60 L1519.40,1102.00 L1511.40,1102.00 L1511.40,1131.60 A19.70,19.70 0 0 1 1491.40,1151.30 L1357.80,1151.30 Z" fill="#fff" stroke="#000" stroke-width="1.3" />
<path d="M1346.20,1245.80 L1623.40,1245.80 A28.40,28.40 0 0 0 1651.40,1217.40 L1651.40,1187.00 L1643.40,1187.00 L1643.40,1217.40 A19.60,19.60 0 0 1 1623.40,1237.00 L1346.20,1237.00" fill="#fff" stroke="#000" stroke-width="1.3" />
<rect x="1329.40" y="1235.00" width="16.80" height="12.50" rx="0" fill="#fff" stroke="#000" stroke-width="1.3" />
<path d="M1494.6,862.3 L1536.6,862.3 L1536.6,996.6 Q1536.6,999.3 1534,999.3 L1497.2,999.3 Q1494.6,999.3 1494.6,996.6 Z" fill="#fff" stroke="#000" stroke-width="1.3" />
<rect x="1506.80" y="1006.70" width="16.80" height="28.80" rx="0" fill="#fff" stroke="#000" stroke-width="1.3" />
<rect x="1512.40" y="1023.40" width="6.00" height="12.10" rx="0" fill="#fff" stroke="#000" stroke-width="1.3" />
<rect x="1502.50" y="1035.50" width="26.50" height="9.00" rx="0" fill="#fff" stroke="#000" stroke-width="1.3" />
<path d="M1503,1038 L1528,1040 M1503,1041 L1528,1038 M1503,1043 L1528,1042" fill="none" stroke="#000" stroke-width="0.9" />
<rect x="1494.20" y="1044.50" width="42.40" height="3.00" rx="0" fill="#999" stroke="#000" stroke-width="1.0" />
<path d="M1494.2,1047.5 L1502.5,1053.5 L1529,1053.5 L1536.6,1047.5" fill="#fff" stroke="#000" stroke-width="1.2" />
<circle cx="1515.60" cy="1077.70" r="23.90" fill="#fff" stroke="#000" stroke-width="1.3" />
<rect x="1511.00" y="1101.20" width="9.00" height="2.40" rx="0" fill="#000" stroke="#000" stroke-width="0" />
<rect x="1626.40" y="995.30" width="41.60" height="135.10" rx="0" fill="#fff" stroke="#000" stroke-width="1.3" />
<rect x="1626.00" y="1130.40" width="42.40" height="2.40" rx="0" fill="#888" stroke="#000" stroke-width="1.0" />
<path d="M1626.4,1132.8 L1635,1139 L1660,1139 L1668,1132.8" fill="#fff" stroke="#000" stroke-width="1.2" />
<circle cx="1647.50" cy="1163.00" r="24.00" fill="#fff" stroke="#000" stroke-width="1.3" />
<rect x="1643.00" y="1186.60" width="9.00" height="2.40" rx="0" fill="#000" stroke="#000" stroke-width="0" />
<ellipse cx="1514.90" cy="838.30" rx="16.50" ry="6.60" fill="none" stroke="#000" stroke-width="3.3"/>
<ellipse cx="1514.90" cy="838.30" rx="16.50" ry="6.60" fill="none" stroke="#fff" stroke-width="0.7"/>
<rect x="1511.10" y="829.50" width="7.6" height="5.4" fill="#fff"/>
<path d="M1511.30,832.30 L1505.30,828.70 L1504.70,834.50 Z" fill="#000" stroke="#000" stroke-width="0.9" />
<rect x="1513.30" y="829.00" width="3.20" height="20.00" rx="0" fill="#999" stroke="#000" stroke-width="1.0" />
<rect x="1513.30" y="829.00" width="3.20" height="1.60" rx="0" fill="#000" stroke="#000" stroke-width="0" />
<path d="M1511.70,848.50 L1514.90,856.00 L1518.10,848.50 Z" fill="#fff" stroke="#000" stroke-width="1.3" />
<rect x="1352.20" y="1299.50" width="3.20" height="20.50" rx="0" fill="#999" stroke="#000" stroke-width="1.0" />
<path d="M1350.60,1300.00 L1353.80,1292.50 L1357.00,1300.00 Z" fill="#fff" stroke="#000" stroke-width="1.3" />
<ellipse cx="1353.80" cy="1310.00" rx="17.60" ry="7.00" fill="none" stroke="#000" stroke-width="3.3"/>
<ellipse cx="1353.80" cy="1310.00" rx="17.60" ry="7.00" fill="none" stroke="#fff" stroke-width="0.7"/>
<rect x="1350.20" y="1313.80" width="7.4" height="5.4" fill="#fff"/>
<rect x="1352.20" y="1313.60" width="3.20" height="6.40" rx="0" fill="#999" stroke="#000" stroke-width="1.0" />
<path d="M1357.20,1316.40 L1363.30,1312.80 L1363.60,1318.60 Z" fill="#000" stroke="#000" stroke-width="0.9" />
<text x="1420.20" y="1310.00" font-size="20.5" text-anchor="middle" font-weight="normal" >4</text>
</svg>
</body></html>
